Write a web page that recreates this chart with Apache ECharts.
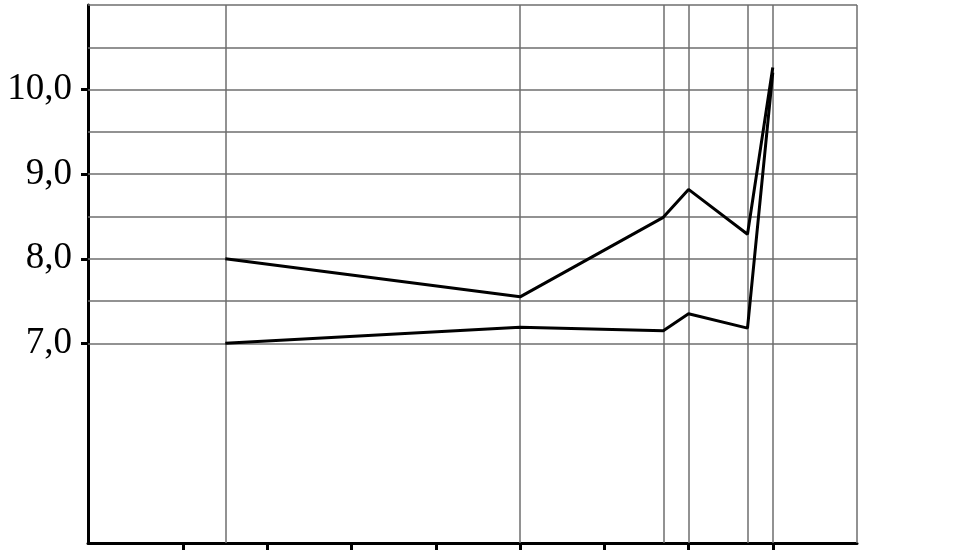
<!DOCTYPE html>
<html>
<head>
<meta charset="utf-8">
<script src="https://cdn.jsdelivr.net/npm/echarts@6/dist/echarts.min.js"></script>
<style>
  html, body { margin: 0; padding: 0; background: #fff; }
  #chart { width: 977px; height: 556px; }
</style>
</head>
<body>
<div id="chart"></div>
<script>
// x positions of the measured points (value axis, ticks at 1..8)
var xPos = [1.5, 5.0, 6.7, 7.0, 7.7, 8.0];
var upperVals = [8.0, 7.55, 8.49, 8.82, 8.29, 10.26];
var lowerVals = [7.0, 7.19, 7.15, 7.35, 7.18, 10.2];
var xTicks = [1, 2, 3, 4, 5, 6, 7, 8];
var yLabels = [7, 8, 9, 10];
var yGridLevels = [7, 7.5, 8, 8.5, 9, 9.5, 10, 10.5, 11];

function pairs(xs, ys) {
  return xs.map(function (x, i) { return [x, ys[i]]; });
}

var gridColor = '#6e6e6e';
var markData = [];
yGridLevels.forEach(function (v) { markData.push({ yAxis: v }); });
xPos.forEach(function (v) { markData.push({ xAxis: v }); });
markData.push({ xAxis: 9 }); // right frame

var chart = echarts.init(document.getElementById('chart'));
chart.setOption({
  animation: false,
  grid: { left: 88, right: 120, top: 5, bottom: 13 },
  xAxis: {
    type: 'value',
    min: -0.13,
    max: 9,
    splitLine: { show: false },
    axisLine: { show: true, onZero: false, lineStyle: { color: '#000', width: 3 } },
    axisTick: { show: true, customValues: xTicks, length: 7, lineStyle: { color: '#000', width: 3 } },
    axisLabel: { show: false }
  },
  yAxis: {
    type: 'value',
    min: 4.64,
    max: 11,
    splitLine: { show: false },
    axisLine: { show: true, onZero: false, lineStyle: { color: '#000', width: 3 } },
    axisTick: { show: true, customValues: yLabels, length: 7, lineStyle: { color: '#000', width: 3 } },
    axisLabel: {
      customValues: yLabels,
      margin: 16,
      color: '#000',
      fontFamily: "'Liberation Serif', 'Times New Roman', serif",
      fontSize: 37,
      formatter: function (v) { return v.toFixed(1).replace('.', ','); }
    }
  },
  series: [
    {
      type: 'line',
      data: pairs(xPos, upperVals),
      showSymbol: false,
      lineStyle: { color: '#000', width: 3 },
      z: 5,
      markLine: {
        silent: true,
        symbol: 'none',
        label: { show: false },
        lineStyle: { color: gridColor, width: 1.5, type: 'solid' },
        data: markData
      }
    },
    {
      type: 'line',
      data: pairs(xPos, lowerVals),
      showSymbol: false,
      lineStyle: { color: '#000', width: 3 },
      z: 5
    }
  ]
});
</script>
</body>
</html>
